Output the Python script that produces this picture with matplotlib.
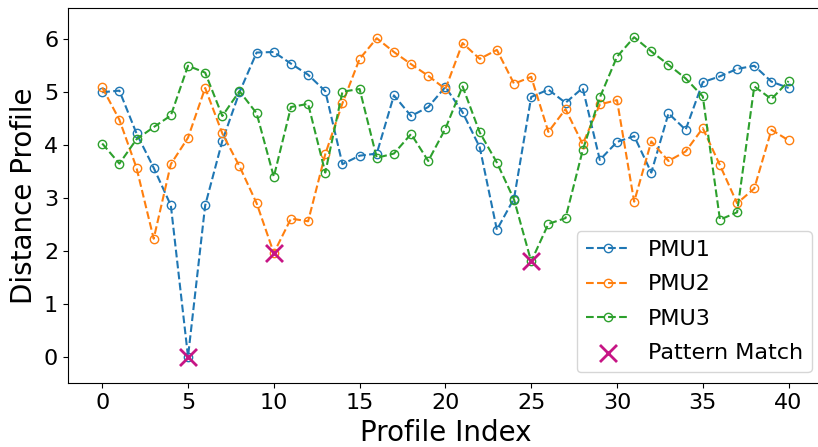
import numpy as np
import matplotlib
matplotlib.use("Agg")
import matplotlib.pyplot as plt

# distance profiles for the three PMUs
idx = np.arange(41)
pmu1 = [5.00, 5.03, 4.22, 3.57, 2.86, 0.00, 2.86, 4.08, 5.00, 5.75,
        5.76, 5.54, 5.33, 5.02, 3.64, 3.80, 3.84, 4.94, 4.55, 4.72,
        5.10, 4.62, 3.96, 2.40, 2.99, 4.91, 5.05, 4.80, 5.08, 3.72,
        4.06, 4.17, 3.48, 4.60, 4.29, 5.19, 5.30, 5.44, 5.50, 5.20,
        5.08]
pmu2 = [5.09, 4.48, 3.57, 2.23, 3.64, 4.14, 5.08, 4.22, 3.60, 2.90,
        1.96, 2.61, 2.56, 3.83, 4.79, 5.63, 6.02, 5.76, 5.53, 5.31,
        5.06, 5.93, 5.63, 5.80, 5.16, 5.29, 4.25, 4.68, 4.02, 4.77,
        4.85, 2.93, 4.07, 3.70, 3.88, 4.32, 3.62, 2.90, 3.18, 4.29,
        4.09]
pmu3 = [4.03, 3.65, 4.11, 4.34, 4.56, 5.50, 5.37, 4.55, 5.02, 4.60,
        3.40, 4.72, 4.78, 3.48, 5.01, 5.06, 3.76, 3.84, 4.21, 3.70,
        4.31, 5.11, 4.24, 3.67, 2.97, 1.80, 2.51, 2.62, 3.90, 4.90,
        5.67, 6.04, 5.77, 5.52, 5.26, 4.92, 2.59, 2.73, 5.11, 4.87,
        5.21]

# best match per PMU
match_x = [5, 10, 25]
match_y = [pmu1[5], pmu2[10], pmu3[25]]

fig, ax = plt.subplots(figsize=(8.18, 4.47), dpi=100)
# axes run slightly past the right edge of the canvas
fig.subplots_adjust(left=0.083, right=1.006, top=0.9814, bottom=0.1425)

for vals, name in zip([pmu1, pmu2, pmu3], ["PMU1", "PMU2", "PMU3"]):
    ax.plot(idx, vals, linestyle="--", marker="o", fillstyle="none",
            markersize=6, linewidth=1.5, label=name)

ax.scatter(match_x, match_y, marker="x", s=150, linewidths=2,
           color="#C71585", zorder=5, label="Pattern Match")

ax.set_ylim(-0.503, 6.586)
ax.set_xlabel("Profile Index", fontsize=20)
ax.set_ylabel("Distance Profile", fontsize=20)
ax.tick_params(labelsize=16)
ax.legend(fontsize=16, loc="lower right", labelspacing=0.65)

plt.savefig("out.png", dpi=100)
